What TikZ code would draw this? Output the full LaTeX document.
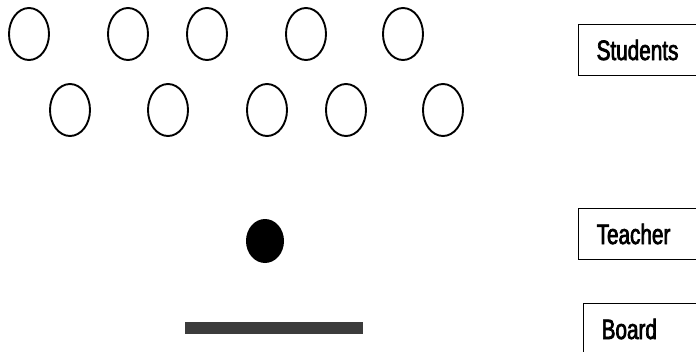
\documentclass[tikz,border=0pt]{standalone}
\usepackage{fontspec}
\usetikzlibrary{shapes.geometric}
\newfontfamily\labelfont[FakeStretch=0.74, FakeBold=2.5]{Liberation Sans}
\definecolor{boardGray}{RGB}{60, 60, 60}

\begin{document}
\begin{tikzpicture}[x=1pt, y=-1pt,
    student/.style={ellipse, draw, line width=1.9pt, minimum width=40pt, minimum height=52pt, inner sep=0pt},
    legendbox/.style={draw, line width=1.3pt, anchor=west, align=left, text width=104pt,
      inner xsep=18pt, minimum height=51pt, font=\labelfont\fontsize{28}{32}\selectfont}]
      \useasboundingbox (0,0) rectangle (696,351);

      % Students: two staggered rows
      \foreach \x [count=\i] in {29, 128, 207, 306, 403}
        \node[student] (top\i) at (\x,34) {};
      \foreach \x [count=\i] in {70, 168, 267, 346, 443}
        \node[student] (low\i) at (\x,110) {};

      % Teacher
      \node[ellipse, fill=black, minimum width=38pt, minimum height=44pt, inner sep=0pt] (teacher) at (265,241) {};

      % Board
      \fill[boardGray] (185,322) rectangle (363,334);

      % Legend on the right
      \node[legendbox] (studentsKey) at (578,50) {Students};
      \node[legendbox] (teacherKey) at (578,234) {Teacher};
      \node[legendbox] (boardKey) at (583,329) {Board};
    \end{tikzpicture}
\end{document}
